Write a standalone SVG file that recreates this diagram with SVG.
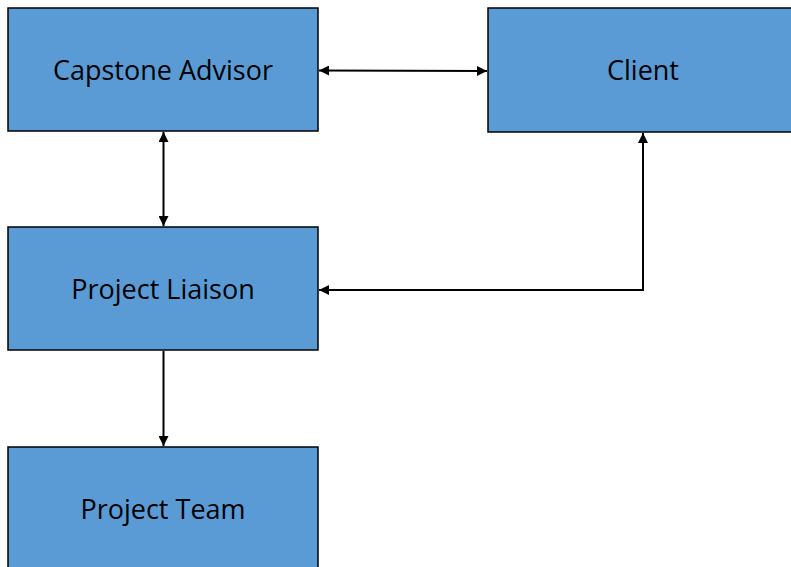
<svg xmlns="http://www.w3.org/2000/svg" width="791" height="567" viewBox="0 0 791 567">
<style>
.box{fill:#5b9bd5;stroke:#000;stroke-width:1.5}
.lbl{font-family:"Open Sans","Liberation Sans",sans-serif;font-size:27px;fill:#000;text-anchor:middle}
.conn{fill:none;stroke:#000;stroke-width:2}
</style>
<defs>
<marker id="ah" viewBox="0 0 10 10" refX="10" refY="5" markerWidth="5" markerHeight="5" orient="auto-start-reverse" markerUnits="strokeWidth">
<path d="M0,0 L10,5 L0,10 z" fill="#000"/>
</marker>
</defs>
<rect width="791" height="567" fill="#fff"/>
<g id="capstone-advisor"><rect class="box" x="8" y="8" width="310" height="123"/><text class="lbl" x="163" y="80">Capstone Advisor</text></g>
<g id="client"><rect class="box" x="488" y="8" width="310" height="124"/><text class="lbl" x="643" y="80">Client</text></g>
<g id="project-liaison"><rect class="box" x="8" y="227" width="310" height="123"/><text class="lbl" x="163" y="299">Project Liaison</text></g>
<g id="project-team"><rect class="box" x="8" y="447" width="310" height="130"/><text class="lbl" x="163" y="519">Project Team</text></g>
<g id="connectors">
<path class="conn" d="M319,70.5 L487,71" marker-start="url(#ah)" marker-end="url(#ah)"/>
<path class="conn" d="M163.5,132 L163.5,226" marker-start="url(#ah)" marker-end="url(#ah)"/>
<path class="conn" d="M643,133 L643,290 L319,290" marker-start="url(#ah)" marker-end="url(#ah)"/>
<path class="conn" d="M163.5,351 L163.5,446" marker-end="url(#ah)"/>
</g>
</svg>
